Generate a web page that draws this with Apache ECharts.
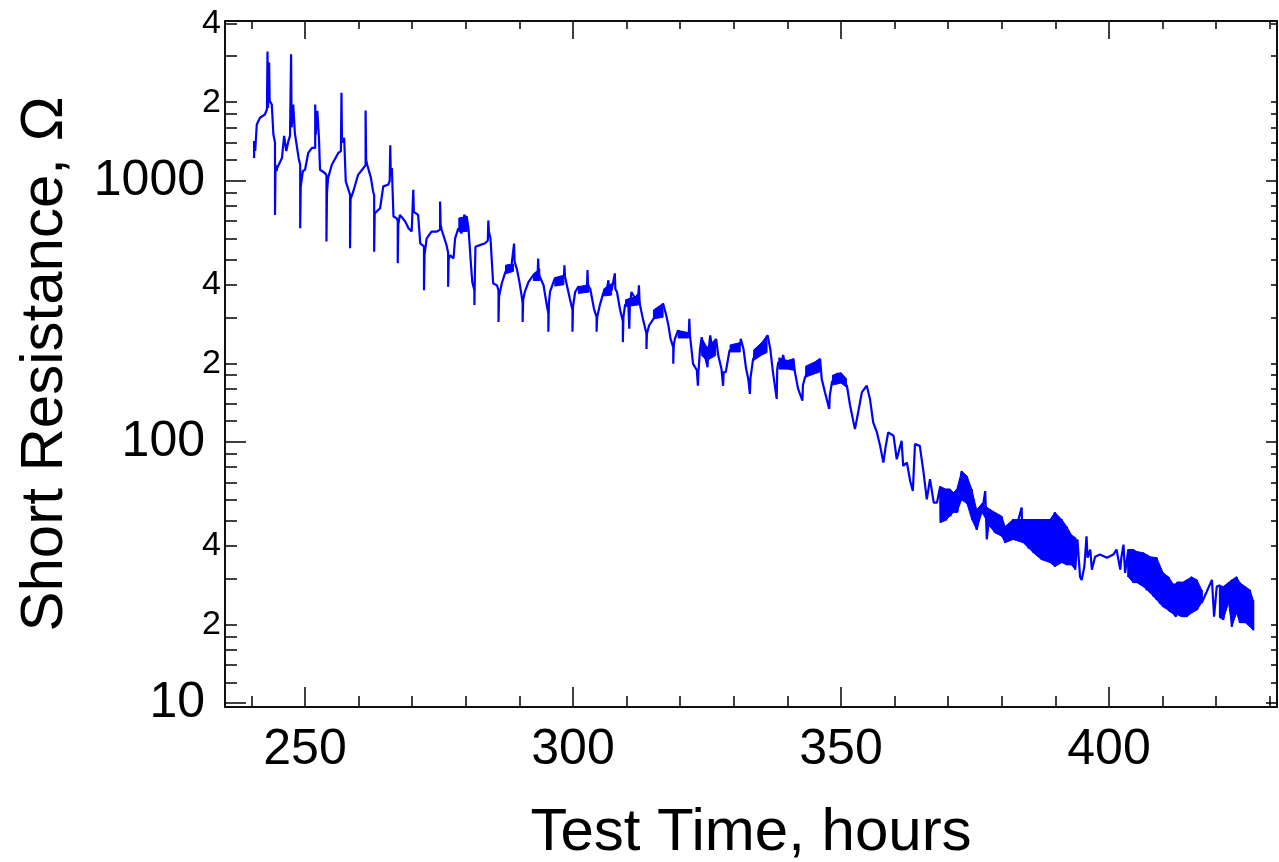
<!DOCTYPE html>
<html><head><meta charset="utf-8">
<script src="https://cdn.jsdelivr.net/npm/echarts@6/dist/echarts.min.js"></script>
<style>html,body{margin:0;padding:0;background:#fff}#c{width:1279px;height:862px}</style>
</head><body><div id="c"></div>
<script>
const xLabelValues = [250, 300, 350, 400];
const xMinorTicks = [240, 260, 270, 280, 290, 310, 320, 330, 340, 360, 370, 380, 390, 410, 420, 430];
const yLabelValues = [10, 20, 40, 100, 200, 400, 1000, 2000, 4000];
const yLabelTexts = ['10', '2', '4', '100', '2', '4', '1000', '2', '4'];
const yMajorTicks = [10, 100, 1000];
const yMinorTicks = [12, 14, 16, 18, 20, 30, 40, 50, 60, 70, 80, 90, 120, 140, 160, 180, 200, 300, 400, 500, 600, 700, 800, 900, 1200, 1400, 1600, 1800, 2000, 3000, 4000];

// [test time (h), short resistance (ohm)]
const trace = [
[240.5,1223],[240.5,1421],[240.7,1300],[241.0,1642],[241.6,1743],[242.5,1794],[242.9,1876],[243.0,3126],[243.1,1900],[243.3,2836],[243.4,2025],[243.8,1960],[244.1,1503],[244.4,1400],[244.4,740],[244.5,1150],[244.7,1090],[244.8,1119],[245.7,1223],[246.1,1486],[246.5,1300],[246.9,1421],[247.2,1486],[247.4,3053],[247.5,1600],[247.8,1960],[248.1,1526],[248.8,1223],[249.1,1150],[249.1,658],[249.2,950],[249.4,952],[249.6,1090],[250.0,1102],[250.6,1278],[251.3,1336],[251.9,1336],[251.9,1960],[252.0,1500],[252.3,1854],[252.6,1460],[252.8,1102],[253.7,1071],[254.0,1050],[254.0,585],[254.1,900],[254.3,1024],[255.0,1152],[256.2,1278],[256.7,1300],[256.8,2174],[256.9,1400],[257.3,1460],[257.6,995],[258.4,884],[258.4,551],[258.5,850],[259.0,910],[259.9,1054],[260.9,1119],[261.3,1150],[261.3,1858],[261.4,1200],[261.6,1152],[262.3,1024],[262.7,910],[262.9,880],[262.9,535],[263.0,750],[263.2,740],[264.0,785],[264.6,952],[265.5,965],[265.8,1000],[265.9,1369],[266.0,1050],[266.2,1119],[266.5,730],[267.1,719],[267.3,700],[267.3,483],[267.4,680],[267.7,740],[268.7,698],[269.3,658],[269.9,639],[270.2,650],[270.2,923],[270.3,760],[270.5,763],[271.1,740],[271.5,576],[272.2,560],[272.2,381],[272.3,520],[272.7,602],[273.6,639],[274.6,639],[275.2,650],[275.2,833],[275.3,680],[275.5,648],[276.4,567],[276.7,530],[276.7,393],[276.8,500],[277.1,519],[277.7,504],[278.0,602],[278.6,658],[279.2,629],[279.7,740],[280.2,719],[280.5,658],[280.9,497],[281.2,410],[281.6,380],[281.6,334],[281.7,450],[281.8,559],[282.6,567],[283.6,576],[284.1,590],[284.2,705],[284.3,640],[284.6,602],[285.1,404],[285.8,398],[286.1,380],[286.1,288],[286.2,360],[286.7,404],[287.3,442],[287.9,475],[288.5,470],[289.0,575],[289.1,490],[289.5,461],[290.0,410],[290.4,364],[290.6,340],[290.6,288],[290.7,350],[291.0,375],[291.7,410],[292.6,435],[293.4,440],[293.5,504],[293.6,440],[293.8,429],[294.5,398],[295.1,334],[295.4,310],[295.4,264],[295.5,340],[295.7,375],[296.6,423],[297.6,429],[298.3,430],[298.4,475],[298.5,430],[298.8,429],[299.4,354],[299.9,320],[299.9,264],[300.0,330],[300.4,375],[301.0,393],[301.9,387],[302.6,390],[302.7,455],[302.8,395],[303.2,387],[303.9,324],[304.4,300],[304.4,264],[304.5,300],[305.0,334],[305.7,375],[306.3,381],[306.6,416],[306.7,380],[307.2,381],[307.8,442],[307.9,385],[308.2,375],[308.8,319],[309.3,290],[309.3,241],[309.4,300],[309.7,334],[310.3,344],[310.5,271],[310.6,330],[310.9,375],[311.6,354],[312.2,370],[312.3,398],[312.4,350],[312.5,334],[313.1,292],[313.7,260],[313.7,227],[313.8,260],[314.2,279],
[315.0,296],[315.9,305],[316.8,339],[317.4,305],[317.8,279],[318.2,248],[318.7,230],[318.7,199],[318.8,235],[319.0,248],[319.6,267],[320.6,256],[321.6,260],[321.7,296],[321.8,258],[322.1,256],[322.4,199],[323.1,188],[323.3,164],[323.4,185],[323.7,227],[324.0,252],[324.6,214],[325.1,193],[325.2,215],[325.6,256],[326.1,214],[326.7,248],[327.1,214],[327.7,190],[328.0,164],[328.1,185],[328.5,185],[329.2,224],[330.2,227],[331.2,235],[331.3,248],[331.8,227],[332.3,190],[332.7,174],[333.0,152.6],[333.1,175],[333.6,208],[334.6,221],[335.5,238],[336.3,256],[336.8,227],[337.3,185],[338.0,146],[338.1,190],[338.3,202],[338.9,199],[339.2,215],[339.5,200],[340.2,196],[341.1,208],[341.4,185],[342.0,159.5],[342.8,143.8],[342.9,165],[343.3,177],[344.2,193],[345.2,199],[346.1,208],[346.4,174],[347.0,155],[347.8,133.6],[347.9,150],[348.3,169],[349.2,182],[349.8,182],[350.4,172],[351.1,164],[351.7,137.5],[352.6,111.9],[353.2,129.8],[353.9,155],[354.8,164],[355.4,146],[356.0,118.8],[356.7,108.7],[357.3,96.5],[357.9,83.3],[358.3,95],[358.8,108.7],[359.8,105.5],[360.4,85.8],[361.3,100.9],[361.6,80.9],[362.3,83.3],[362.9,70.8],[363.4,64.8],[363.8,98],[364.7,96.5],[365.4,76.3],[366.0,60.2],[366.6,71.9],[367.3,58.5],[367.9,58.5],
[368.5,67.5],[368.6,49.1],[369.5,66],[369.6,50],[370.3,66],[370.4,51.9],[371.0,64],[371.1,53.7],[371.6,65.8],[371.7,53.7],[372.0,60],[372.5,77.3],[373.0,62],[373.5,74],[373.6,58],[374.4,65.8],[374.5,50.4],[375.3,55],[375.3,46.1],[376.3,58],[376.3,53.7],[376.9,64.8],[377.2,42.3],[377.8,55.1],[377.8,47.4],[378.7,53.7],[378.7,44.9],[379.7,51.9],[380.0,43.5],[380.6,47.4],[380.6,41.1],[381.2,44.9],[382.1,50.4],[382.1,42.3],[383.7,56.1],[383.8,45],[384.0,50.4],[384.0,41.1],[385.0,50],[385.0,39],[385.9,50.4],[385.9,37.6],[386.7,49],[386.7,36.5],[387.4,50.4],[387.4,35.4],[388.2,50],[388.2,35],[389.0,50.4],[389.0,34.5],[389.9,53.7],[389.9,33.3],[390.5,51],[390.5,34],[391.2,50.4],[391.2,34.5],[392.1,47.4],[392.1,33.8],[393.0,44],[393.0,33.8],[393.7,43],[393.7,32.4],[394.1,42.3],[394.6,30.4],[394.9,29.6],[395.4,33.3],[395.8,43.5],[396.0,36],[396.5,38.7],[396.8,32.4],[397.4,36.3],[398.3,37],[399.6,36],[400.8,37],[401.4,38.7],[402.1,32.4],[402.3,36],[402.7,40.4],[403.0,31.5],[403.6,38.7],[403.6,30.4],[404.5,38.7],[404.5,28.9],[405.2,38],[405.2,28.9],[405.8,37.8],[405.8,28.4],[406.4,37.6],[406.4,27.9],[407.0,37],[407.0,27],[407.7,36.3],[407.7,26.4],[408.3,36.1],[408.3,25.5],[408.9,36],[408.9,24.8],[409.5,33],[409.5,24],[410.1,31.5],[410.1,23.3],[411.1,30.4],[411.1,22.7],[412.0,22.1],[412.5,21.4],[412.7,28.9],[413.6,28.9],[413.6,21.4],[414.5,29.6],[414.5,21.4],[415.4,30.4],[415.4,22.1],[416.4,29.6],[416.4,22.7],[417.3,27.1],[417.3,24.2],[418.2,26.6],[419.2,29.6],[419.6,21.4],[420.1,27.9],[420.7,28.2],[420.7,21.2],[421.3,27.9],[421.3,20.8],[422.3,28.9],[422.3,24.2],[422.9,29.6],[422.9,19.6],[423.8,30.4],[423.8,22.1],[424.4,28.9],[424.4,20.3],[425.4,27.9],[425.4,20.3],[426.3,27.1],[426.3,19.6],[426.9,24.8],[426.9,19]
];

// dense, filled-looking parts of the trace: time, low and high edge (null = gap)
const bandTime = [278.7,280.3,280.6, 287.4,288.9,289.2, 292.6,293.8,294.0, 296.6,298.3,298.6, 301.0,303.0,303.3, 305.7,307.2,307.5, 309.8,312.4,312.8, 315.0,316.8,317.2, 319.6,321.6,322.0, 324.0,325.0,326.6,327.0, 329.3,331.2,331.6, 333.7,335.2,336.2,336.6, 338.4,340.0,341.2,341.6, 343.4,345.0,346.0,346.4, 348.4,350.0,351.0,351.4,
  368.5,369.5,370.3,371.0,371.6,372.5,373.5,374.4,375.3,376.3,377.8,378.7,380.0,380.6,382.1,384.0,385.9,387.4,389.0,389.9,391.2,392.1,393.0,393.7,398.0,403.6,404.5,405.2,406.4,407.7,408.9,410.1,411.1,412.0,413.6,414.5,415.4,416.4,417.3,419.0,420.7,421.3,422.3,422.9,423.8,424.4,425.4,426.3,426.9];
const bandLow  = [640,640,null, 440,450,null, 415,415,null, 395,400,null, 370,375,null, 362,365,null, 330,335,null, 296,300,null, 250,250,null, 214,205,214,null, 221,221,null, 205,215,220,null, 190,190,188,null, 177,182,185,null, 165,168,162,null,
  49.1,50,51.9,53.7,53.7,60,58,50.4,46.1,53.7,47.4,44.9,43.5,41.1,42.3,41.1,37.6,35.4,34.5,33.3,34.5,33.8,33.8,32.4,null,30.4,28.9,28.9,27.9,26.4,24.8,23.3,22.7,22.1,21.4,21.4,22.1,22.7,24.2,null,21.2,20.8,24.2,19.6,22.1,20.3,20.3,19.6,19];
const bandHigh = [720,730,null, 475,480,null, 440,460,null, 423,435,null, 393,400,null, 385,404,null, 350,365,null, 320,339,null, 267,262,null, 250,230,248,null, 235,240,null, 225,240,256,null, 210,205,208,null, 195,202,208,null, 180,184,175,null,
  67.5,66,66,64,65.8,77.3,74,65.8,55,58,55.1,53.7,51.9,47.4,50.4,50.4,50.4,50.4,50.4,53.7,50.4,47.4,44,43,null,38.7,38.7,38,37.6,36.3,36,31.5,30.4,28.5,28.9,29.6,30.4,29.6,27.1,null,28.2,27.9,28.9,29.6,30.4,28.9,27.9,27.1,24.8];

const FONT = 'Liberation Sans, Arial, sans-serif';
const X_MIN = 235.07, X_MAX = 431.34, Y_MIN = 9.65, Y_MAX = 4092;
const lineCol = '#000';

function xAx(pos, ticks, len, extra) {
  return Object.assign({
    type: 'value', position: pos, min: X_MIN, max: X_MAX, splitLine: {show: false},
    axisLine: {show: true, onZero: false, lineStyle: {color: lineCol, width: 1.5}},
    axisTick: {show: true, inside: true, length: len, customValues: ticks, lineStyle: {color: lineCol, width: 1.5}},
    axisLabel: {show: false}, z: 5
  }, extra || {});
}
function yAx(pos, ticks, len, extra) {
  return Object.assign({
    type: 'log', logBase: 10, position: pos, min: Y_MIN, max: Y_MAX, splitLine: {show: false},
    axisLine: {show: true, onZero: false, lineStyle: {color: lineCol, width: 1.5}},
    axisTick: {show: true, inside: true, length: len, customValues: ticks, lineStyle: {color: lineCol, width: 1.5}},
    axisLabel: {show: false}, z: 5
  }, extra || {});
}

const chart = echarts.init(document.getElementById('c'), null, {renderer: 'canvas'});
chart.setOption({
  animation: false,
  backgroundColor: '#fff',
  grid: {left: 225, right: 2, top: 21, bottom: 155, containLabel: false, outerBoundsMode: 'none'},
  xAxis: [
    xAx('bottom', xLabelValues, 20, {
      axisLabel: {show: true, customValues: xLabelValues, fontSize: 50, fontFamily: FONT, color: '#000', margin: 18},
      name: 'Test Time, hours', nameLocation: 'middle', nameGap: 96,
      nameTextStyle: {fontSize: 60, fontFamily: FONT, color: '#000'}
    }),
    xAx('bottom', xMinorTicks, 11),
    xAx('top', xLabelValues, 18),
    xAx('top', xMinorTicks, 8)
  ],
  yAxis: [
    yAx('left', yMinorTicks, 12, {
      axisLabel: {
        show: true, customValues: yLabelValues, margin: 4,
        formatter: function (v) {
          let i = yLabelValues.findIndex(function (x) { return Math.abs(x - v) / x < 1e-6; });
          const s = i >= 0 ? yLabelTexts[i] : String(v);
          return s.length > 1 ? '{b|' + s + '}' : '{s|' + s + '}';
        },
        rich: {
          b: {fontSize: 50, fontFamily: FONT, color: '#000', padding: [0, 16, 0, 0]},
          s: {fontSize: 34, fontFamily: FONT, color: '#000'}
        }
      },
      name: 'Short Resistance, \u03A9', nameLocation: 'middle', nameGap: 150, nameRotate: 90,
      nameTextStyle: {fontSize: 60, fontFamily: FONT, color: '#000'}
    }),
    yAx('left', yMajorTicks, 21),
    yAx('right', yMinorTicks, 6),
    yAx('right', yMajorTicks, 11)
  ],
  series: [
    {
      type: 'custom', xAxisIndex: 0, yAxisIndex: 0, clip: true, z: 2,
      data: bandTime.map(function (t, i) { return [t, bandLow[i], bandHigh[i]]; }),
      renderItem: function (params, api) {
        const i = params.dataIndexInside;
        if (i + 1 >= params.dataInsideLength) return null;
        const t0 = api.value(0, i), l0 = api.value(1, i), h0 = api.value(2, i);
        const t1 = api.value(0, i + 1), l1 = api.value(1, i + 1), h1 = api.value(2, i + 1);
        if ([l0, h0, l1, h1].some(function (v) { return v == null || isNaN(v); })) return null;
        const pts = [api.coord([t0, l0]), api.coord([t1, l1]), api.coord([t1, h1]), api.coord([t0, h0])];
        return {type: 'polygon', shape: {points: pts}, style: {fill: '#0000ff', stroke: '#0000ff', lineWidth: 1}};
      }
    },
    {
      type: 'line', xAxisIndex: 0, yAxisIndex: 0, data: trace, showSymbol: false, symbol: 'none',
      lineStyle: {color: '#0000ff', width: 2.2}, z: 3, clip: true
    }
  ]
});
</script></body></html>
